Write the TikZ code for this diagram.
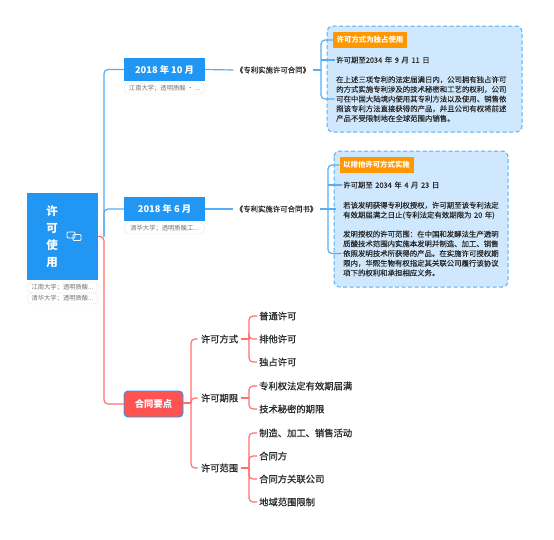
\documentclass[tikz,border=0pt]{standalone}
\usepackage{fontspec}
\setmainfont{Noto Sans CJK SC}
\newfontfamily\medfont[FakeBold=0.25]{Noto Sans CJK SC}
\newfontfamily\notefont[FakeBold=0.25,WordSpace=1.25]{Noto Sans CJK SC}
\newfontfamily\headfont[FakeBold=1]{Noto Sans CJK SC}
\usetikzlibrary{calc,positioning}
\definecolor{mainblue}{HTML}{2196F3}
\definecolor{lineblue}{HTML}{55AEF6}
\definecolor{linered}{HTML}{FF6F6F}
\definecolor{boxred}{HTML}{FF5252}
\definecolor{calloutblue}{HTML}{CFE8FD}
\definecolor{tagorange}{HTML}{FF9800}
\definecolor{inkgrey}{HTML}{2B2B2B}
\tikzset{
  linkblue/.style={draw=lineblue, line width=1.2pt, rounded corners=4pt},
  linkred/.style={draw=linered, line width=1.2pt, rounded corners=4pt},
  datebox/.style={fill=mainblue, text=white, font=\fontsize{9.3}{11}\bfseries\selectfont, minimum width=81pt, minimum height=23.5pt, inner sep=0pt},
  pill/.style={draw=black!10, fill=white, rounded corners=5pt, text=black!55, font=\fontsize{6.3}{8}\selectfont, minimum height=11pt, inner sep=0pt},
  callout/.style={draw=lineblue, fill=calloutblue, line width=1pt, dash pattern=on 4pt off 2.5pt, rounded corners=6pt},
  ribbon/.style={fill=tagorange, text=white, font=\fontsize{7.4}{9}\bfseries\selectfont, minimum width=74pt, minimum height=16pt, inner sep=0pt},
  note/.style={align=left, anchor=west, inner ysep=0pt, inner xsep=1.5pt, text=inkgrey, font=\fontsize{7.4}{9.7}\notefont},
  deal/.style={inner ysep=0pt, inner xsep=2.5pt, text=inkgrey, font=\fontsize{7.4}{9}\medfont},
  topic/.style={text=inkgrey, font=\fontsize{9.3}{11}\headfont, inner ysep=0pt, inner xsep=3pt},
  leaf/.style={anchor=west, text=inkgrey, font=\fontsize{9.3}{11}\headfont, inner ysep=0pt, inner xsep=2pt},
  linkicon/.style={draw=white, line width=0.8pt, rounded corners=1pt, minimum width=8pt, minimum height=6pt, inner sep=0pt},
}
\begin{document}
\begin{tikzpicture}[x=1pt,y=-1pt]
  \useasboundingbox (0,0) rectangle (554,539);
  % root
  \node[fill=mainblue, minimum width=71pt, minimum height=87pt, inner sep=0pt] (root) at (62.5,236.5) {};
  \node[text=white, align=center, inner sep=0pt, font=\fontsize{11.5}{17}\bfseries\selectfont] (roottext) at (52,236.5) {许\\可\\使\\用};
  \node[pill, minimum width=71pt] (roottag1) at (62.5,287.5) {江南大学；透明质酸...};
  \node[pill, minimum width=71pt] (roottag2) at (62.5,298.5) {清华大学；透明质酸...};
  \node[linkicon] (iconA) at (71,235) {};
  \node[linkicon] (iconB) at (77,237.5) {};
  % branch 1
  \node[datebox] (date1) at (164.5,69.5) {2018 年 10 月};
  \node[pill, minimum width=81pt] (date1tag) at (164.5,88.5) {江南大学；透明质酸 · ...};
  \node[deal] (contract1) at (273,70) {《专利实施许可合同》};
  \draw[callout] (327,26) rectangle (522,132);
  \node[ribbon] (mode1) at (370,40) {许可方式为独占使用};
  \node[note] (term1) at (334.5,60) {许可期至2034 年 9 月 11 日};
  \node[note] (para1) at (334.5,99) {在上述三项专利的法定届满日内，公司拥有独占许可\\的方式实施专利涉及的技术秘密和工艺的权利，公司\\可在中国大陆境内使用其专利方法以及使用、销售依\\照该专利方法直接获得的产品，并且公司有权将前述\\产品不受限制地在全球范围内销售。};
  % branch 2
  \node[datebox] (date2) at (164.5,209) {2018 年 6 月};
  \node[pill, minimum width=81pt] (date2tag) at (164.5,228.5) {清华大学；透明质酸工...};
  \node[deal] (contract2) at (276.5,209) {《专利实施许可合同书》};
  \draw[callout] (334,151) rectangle (508,287);
  \node[ribbon] (mode2) at (376.5,165) {以排他许可方式实施};
  \node[note] (term2) at (341.5,185) {许可期至 2034 年 4 月 23 日};
  \node[note] (para2) at (341.5,210.5) {若该发明获得专利权授权，许可期至该专利法定\\有效期届满之日止(专利法定有效期限为 20 年)};
  \node[note] (para3) at (341.5,253.5) {发明授权的许可范围：在中国和发酵法生产透明\\质酸技术范围内实施本发明并制造、加工、销售\\依照发明技术所获得的产品。在实施许可授权期\\限内，华熙生物有权指定其关联公司履行该协议\\项下的权利和承担相应义务。};
  % branch 3
  \node[draw=mainblue, fill=boxred, line width=0.9pt, rounded corners=4pt, text=white, minimum width=59pt, minimum height=26pt, inner sep=0pt, font=\fontsize{9.3}{11}\bfseries\selectfont] (points) at (153.5,404) {合同要点};
  \node[topic] (mode) at (219.5,339) {许可方式};
  \node[topic] (period) at (219.5,398) {许可期限};
  \node[topic] (scope) at (219.5,468) {许可范围};
  \foreach \name/\y/\label in {common/316/普通许可, sole/339/排他许可, only/362/独占许可, life/386/专利权法定有效期届满, secret/409/技术秘密的期限, make/433/制造、加工、销售活动, party/456/合同方, related/479/合同方关联公司, region/502/地域范围限制}
    \node[leaf] (\name) at (257,\y) {\label};
  % connectors
  \coordinate (trunk) at (104,236.5);
  \draw[linkblue] (trunk) |- (date1.west);
  \draw[linkblue] (trunk) |- (date2.west);
  \draw[linkred] (root.east |- trunk) -- (trunk) |- (points.west);
  \draw[linkblue] (date1.east) -- (contract1.west);
  \draw[linkblue] (date2.east) -- (contract2.west);
  \coordinate (spine1) at (321,70);
  \coordinate (spine2) at (328,209);
  \coordinate (stub2) at (336,209);
  \draw[linkblue] (contract1.east) -- (spine1);
  \foreach \to in {mode1,para1}
    \draw[linkblue] (spine1) |- (\to.west);
  \draw[linkblue] (spine1 |- term1) -- (term1.west);
  \draw[linkblue] (contract2.east) -- (stub2);
  \foreach \to in {mode2,para3}
    \draw[linkblue] (spine2) |- (\to.west);
  \draw[linkblue] (spine2 |- term2) -- (term2.west);
  \coordinate (spine3) at (191,403);
  \draw[linkred] (points.east |- spine3) -- (spine3);
  \foreach \to in {mode,period,scope}
    \draw[linkred] (spine3) |- (\to.west);
  \foreach \from/\list in {mode/{common,sole,only}, period/{life,secret}, scope/{make,party,related,region}} {
    \coordinate (fork) at (249,0);
    \draw[linkred] (\from.east) -- (fork |- \from.east);
    \foreach \to in \list
      \draw[linkred] (fork |- \from.east) |- (\to.west);
  }
\end{tikzpicture}
\end{document}
